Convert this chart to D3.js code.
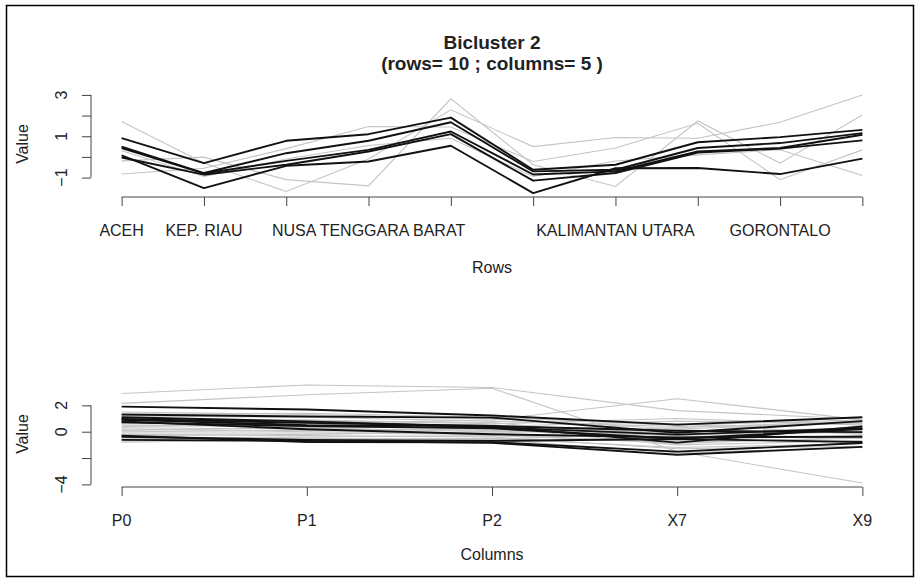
<!DOCTYPE html>
<html>
<head>
<meta charset="utf-8">
<script src="https://cdn.jsdelivr.net/npm/d3@7"></script>
<style>
  body { margin: 0; background: #fff; }
  svg { display: block; }
  text { font-family: "Liberation Sans", Arial, Helvetica, sans-serif; fill: #222; }
</style>
</head>
<body>
<svg id="chart" width="920" height="582"></svg>
<script>
// ---- data -------------------------------------------------------------
const rowNames = ["ACEH", "KEP. RIAU", "JAWA TIMUR", "NUSA TENGGARA BARAT", "NUSA TENGGARA TIMUR",
                  "KALIMANTAN BARAT", "KALIMANTAN UTARA", "SULAWESI UTARA", "GORONTALO", "MALUKU UTARA"];
const colNames = ["P0", "P1", "P2", "X7", "X9"];

// bicluster cells: one array per bicluster column, over the 10 bicluster rows
const P0 = [0.91, -0.30, 0.78, 1.10, 1.90, -0.62, -0.38, 0.71, 0.96, 1.31];
const P1 = [0.50, -0.78, 0.18, 0.78, 1.68, -0.70, -0.62, 0.43, 0.67, 1.15];
const P2 = [0.43, -0.80, -0.19, 0.34, 1.23, -0.85, -0.70, 0.26, 0.43, 1.07];
const X7 = [0.07, -1.51, -0.43, -0.22, 0.54, -1.75, -0.55, -0.54, -0.83, -0.08];
const X9 = [-0.03, -0.86, -0.38, 0.26, 1.10, -1.15, -0.78, 0.21, 0.40, 0.80];

// remaining columns over the bicluster rows (grey in the row plot)
const otherCol1 = [1.71, -0.30, -1.67, -0.10, 2.28, 0.50, 0.94, 0.90, 1.68, 3.00];
const otherCol2 = [-0.19, -0.01, -1.10, -1.40, 2.81, -0.38, -1.43, 1.74, -0.30, 2.03];
const otherCol3 = [-0.83, -0.55, 0.40, 1.47, 1.45, -0.22, 0.43, 1.63, -1.10, 0.34];
const otherCol4 = [0.30, -0.95, -0.10, 0.55, 0.90, -0.95, -0.20, 0.10, 0.35, -0.90];

// remaining rows over the bicluster columns (grey in the column plot), values for P0, P1, P2, X7, X9
const otherRows = [
  [2.90, 3.55, 3.35, 1.60, 0.95],
  [2.15, 2.80, 3.30, -1.50, -3.90],
  [0.60, 0.60, 0.90, 2.50, 0.90],
  [1.20, 1.10, 0.80, 0.40, 0.60],
  [0.30, 0.20, 0.10, -0.30, 0.20],
  [-0.50, -0.40, -0.30, -0.80, -0.50],
  [0.00, 0.10, 0.20, -0.50, 0.40],
  [-0.80, -0.60, -0.50, -1.20, -0.90],
  [1.50, 1.30, 1.00, 0.20, 0.70],
  [0.80, 0.70, 0.50, -0.10, 0.30],
  [-0.30, -0.20, 0.00, 0.60, -0.20],
  [0.40, 0.50, 0.30, -1.00, -0.70],
  [-0.60, -0.50, -0.60, 0.00, 0.10],
  [1.00, 0.90, 0.60, 1.00, 0.50],
  [-0.20, -0.30, -0.40, -1.30, -1.10],
  [0.20, 0.00, -0.10, 0.30, 0.80],
  [0.90, 0.80, 0.70, -0.60, -0.30],
  [-0.70, -0.70, -0.80, -0.40, 0.00],
  [0.50, 0.40, 0.40, 0.80, 0.60],
  [-0.10, -0.10, -0.20, -0.90, -0.40],
  [1.30, 1.40, 1.10, 0.50, 0.90],
  [-0.40, -0.50, -0.60, -1.60, -1.20],
  [0.70, 0.30, 0.00, 0.10, -0.10],
  [0.10, 0.30, 0.50, -0.20, 0.20]
];

const titleLines = ["Bicluster 2", "(rows= 10 ; columns= 5 )"];

// ---- drawing ----------------------------------------------------------
const svg = d3.select("#chart");
svg.append("rect").attr("x", 6.5).attr("y", 5.5).attr("width", 907).attr("height", 571)
   .attr("fill", "#fff").attr("stroke", "#000").attr("stroke-width", 1.5);

const plotLeft = 92, plotRight = 892;
const tickLen = 9;

// hide labels that would collide with the previously kept one (base-graphics style)
function thinLabels(sel, gap) {
  let lastEnd = -Infinity;
  sel.each(function (d) {
    const node = this;
    const w = node.getComputedTextLength();
    const c = +node.getAttribute("data-c");
    const start = c - w / 2, end = c + w / 2;
    if (start < lastEnd + gap) d3.select(node).attr("display", "none");
    else lastEnd = end;
  });
}

function drawPanel(opt) {
  const g = svg.append("g");
  const x = d3.scalePoint().domain(opt.xLabels).range([plotLeft, plotRight]).padding(0.04 * (opt.xLabels.length - 1));
  const all = opt.black.flat().concat(opt.grey.flat());
  const ext = d3.extent(all);
  const pad = 0.04 * (ext[1] - ext[0]);
  const y = d3.scaleLinear().domain([ext[0] - pad, ext[1] + pad]).range([opt.bottom, opt.top]);

  const line = d3.line().x((d, i) => x(opt.xLabels[i])).y(d => y(d));

  g.append("g").selectAll("path").data(opt.grey).join("path")
    .attr("d", line).attr("fill", "none").attr("stroke", "#c4c4c4").attr("stroke-width", 1.1);
  g.append("g").selectAll("path").data(opt.black).join("path")
    .attr("d", line).attr("fill", "none").attr("stroke", "#111").attr("stroke-width", 1.9)
    .attr("stroke-linejoin", "round");

  // measuring text (for label thinning)
  const gapEl = g.append("text").attr("font-size", 16).text("m");
  const gap = gapEl.node().getComputedTextLength();
  gapEl.remove();

  // x axis
  const xAxis = d3.axisBottom(x).tickSize(tickLen).tickSizeOuter(0).tickFormat("");
  const gx = g.append("g").attr("transform", `translate(0,${opt.bottom})`).call(xAxis);
  gx.select(".domain").remove();
  gx.selectAll(".tick line").attr("stroke", "#444");
  gx.append("line").attr("x1", x(opt.xLabels[0])).attr("x2", x(opt.xLabels[opt.xLabels.length - 1]))
    .attr("stroke", "#444");
  const xl = g.append("g").selectAll("text").data(opt.xLabels).join("text")
    .attr("x", d => x(d)).attr("data-c", d => x(d))
    .attr("y", opt.bottom + 33).attr("dominant-baseline", "central")
    .attr("text-anchor", "middle").attr("font-size", 16).text(d => d);
  thinLabels(xl, gap);

  // y axis
  const ticks = y.ticks(5);
  const yAxis = d3.axisLeft(y).tickValues(ticks).tickSize(tickLen).tickSizeOuter(0).tickFormat("");
  const gy = g.append("g").attr("transform", `translate(${plotLeft - 1},0)`).call(yAxis);
  gy.select(".domain").remove();
  gy.selectAll(".tick line").attr("stroke", "#444");
  gy.append("line").attr("y1", y(ticks[0])).attr("y2", y(ticks[ticks.length - 1])).attr("stroke", "#444");
  const yl = g.append("g").selectAll("text").data(ticks).join("text")
    .attr("data-c", d => -y(d))
    .attr("transform", d => `translate(61,${y(d)}) rotate(-90)`)
    .attr("dominant-baseline", "central").attr("text-anchor", "middle")
    .attr("font-size", 16).text(d => d3.format("d")(d));
  thinLabels(yl, gap);

  g.append("text").attr("transform", `translate(22,${(opt.top + opt.bottom) / 2}) rotate(-90)`)
    .attr("text-anchor", "middle").attr("dominant-baseline", "central").attr("font-size", 16).text("Value");
  g.append("text").attr("x", (plotLeft + plotRight) / 2).attr("y", opt.bottom + opt.titleOffset)
    .attr("text-anchor", "middle").attr("dominant-baseline", "central").attr("font-size", 16).text(opt.xTitle);
}

// rows on the x axis: one line per column
drawPanel({
  xLabels: rowNames,
  black: [P0, P1, P2, X7, X9],
  grey: [otherCol1, otherCol2, otherCol3, otherCol4],
  top: 91, bottom: 197, xTitle: "Rows", titleOffset: 70
});

// columns on the x axis: one line per row
drawPanel({
  xLabels: colNames,
  black: rowNames.map((_, i) => [P0[i], P1[i], P2[i], X7[i], X9[i]]),
  grey: otherRows,
  top: 381, bottom: 487, xTitle: "Columns", titleOffset: 67
});

svg.append("g").selectAll("text").data(titleLines).join("text")
  .attr("x", 492).attr("y", (d, i) => 42 + i * 21)
  .attr("text-anchor", "middle").attr("dominant-baseline", "central")
  .attr("font-size", 19).attr("font-weight", "bold").text(d => d);
</script>
</body>
</html>
